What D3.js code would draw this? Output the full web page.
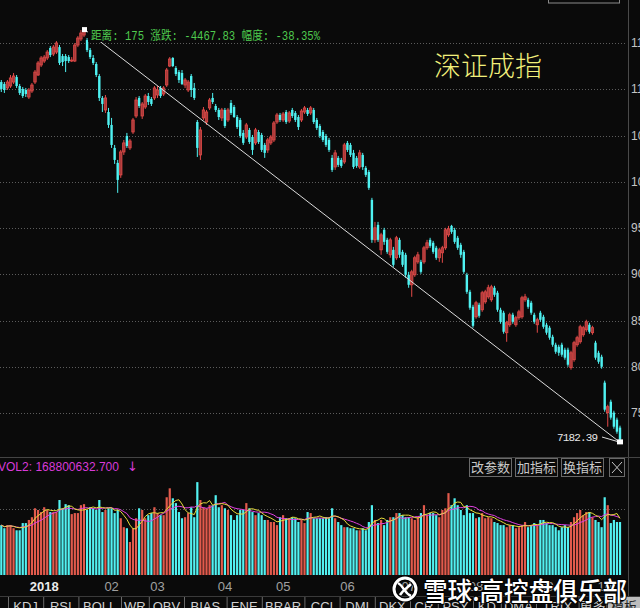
<!DOCTYPE html>
<html><head><meta charset="utf-8">
<script src="https://cdn.jsdelivr.net/npm/d3@7/dist/d3.min.js"></script>
<style>html,body{margin:0;padding:0;background:#0a0a0a;overflow:hidden}</style>
</head><body><svg id="c" width="640" height="608"></svg>
<script>
// ---------- data ----------
const opens = [11078,11057,11014,11035,11078,11132,11035,11003,10992,10916,10981,11078,11154,11262,11305,11338,11446,11381,11402,11456,
11359,11359,11348,11305,11305,11478,11543,11586,11532,11424,11338,11273,11143,10906,10776,10754,10614,10366,10204,10074,
10322,10495,10366,10538,10711,10906,10711,10808,10927,10895,10906,10938,11014,10949,11046,11251,11338,11230,11186,11176,
11046,10992,11143,11014,10646,10290,10690,10646,10798,10906,10819,10776,10690,10776,10668,10852,10808,10700,10668,10528,
10484,10560,10484,10420,10538,10506,10398,10344,10420,10452,10646,10722,10668,10754,10657,10776,10744,10700,10668,10754,
10776,10744,10776,10668,10603,10538,10495,10452,10258,10160,10258,10236,10214,10420,10398,10312,10258,10160,10290,10150,
10106,9804,9372,9534,9264,9480,9372,9210,9264,9178,9372,9242,9210,8994,8886,8994,9134,9134,9134,9286,
9372,9340,9286,9178,9232,9286,9426,9523,9480,9394,9318,9242,8994,8810,8648,8540,8670,8616,8702,8756,
8724,8854,8800,8616,8584,8368,8454,8562,8454,8530,8540,8724,8724,8692,8562,8454,8584,8540,8454,8422,
8324,8238,8216,8238,8184,8184,7990,8076,8238,8270,8346,8400,8454,8368,8260,8151,8108,7828,7504,7622,
7504,7428,7342];
const highs = [11100,11078,11100,11154,11176,11154,11057,11024,11014,11014,11068,11208,11305,11359,11370,11424,11467,11478,11521,11478,
11381,11381,11370,11348,11500,11575,11640,11650.22,11554,11446,11370,11294,11165,10927,10938,10798,10690,10398,10236,10344,
10452,10528,10463,10690,10916,10927,10862,10949,10960,10916,11035,11035,11035,11035,11230,11348,11348,11251,11208,11208,
11122,11100,11165,11068,10668,10592,10808,10776,10906,10960,10841,10798,10798,10798,10798,10884,10830,10722,10690,10560,
10636,10582,10506,10582,10560,10528,10420,10474,10506,10657,10744,10744,10754,10776,10765,10798,10765,10722,10787,10819,
10798,10819,10798,10690,10625,10560,10517,10474,10290,10344,10279,10258,10420,10441,10420,10344,10279,10344,10312,10171,
10128,9826,9566,9566,9448,9502,9394,9394,9296,9415,9394,9264,9232,9026,9048,9200,9242,9156,9307,9372,
9394,9361,9307,9286,9307,9502,9523,9534,9502,9415,9340,9264,9016,8832,8670,8713,8692,8821,8832,8886,
8886,8875,8821,8638,8605,8497,8584,8584,8551,8616,8767,8788,8746,8713,8584,8530,8605,8562,8476,8443,
8346,8260,8238,8260,8206,8206,8173,8281,8335,8454,8443,8508,8476,8443,8281,8173,8130,7850,7590,7644,
7525,7450,7363];
const lows = [10970,10960,10992,11014,11057,11014,10938,10906,10916,10895,10960,11057,11143,11240,11284,11316,11348,11359,11381,11262,
11251,11186,11284,11294,11294,11456,11521,11564,11402,11327,11262,11132,10873,10754,10744,10582,10366,10193,9880,10042,
10290,10366,10344,10517,10690,10798,10679,10787,10830,10819,10884,10906,10906,10927,11024,11240,11240,11143,11068,11046,
11014,10970,10916,10884,10268,10236,10668,10614,10776,10841,10754,10668,10657,10582,10646,10722,10690,10571,10474,10398,
10463,10409,10290,10398,10409,10322,10258,10312,10398,10430,10625,10646,10646,10625,10636,10690,10646,10560,10646,10733,
10711,10722,10625,10560,10474,10430,10376,10322,10106,10128,10160,10150,10193,10322,10268,10139,10150,10139,10128,10052,
9912,9340,9340,9350,9210,9318,9221,9178,9080,9156,9178,9080,8962,8854,8756,8972,9113,9005,9113,9264,
9286,9221,9156,9134,9124,9264,9404,9437,9329,9264,9178,9005,8788,8616,8422,8519,8530,8594,8681,8735,
8702,8756,8594,8465,8357,8270,8432,8465,8432,8508,8519,8702,8627,8562,8465,8368,8486,8411,8346,8292,
8216,8140,8119,8108,8076,8000,7968,8054,8216,8249,8324,8378,8357,8346,8076,8032,7979,7514,7352,7428,
7330,7276,7182.39];
const closes = [11003,10992,11078,11122,11143,11035,10960,10927,10949,10992,11046,11186,11284,11338,11348,11402,11370,11456,11500,11284,
11294,11305,11305,11316,11478,11554,11608,11629,11424,11348,11284,11154,10906,10841,10906,10614,10398,10236,10020,10322,
10420,10387,10441,10668,10884,10819,10841,10927,10862,10841,11014,10992,10927,11014,11208,11327,11251,11165,11100,11057,
11100,11078,10992,10906,10366,10560,10776,10754,10884,10862,10776,10700,10776,10603,10776,10744,10700,10592,10495,10420,
10614,10430,10344,10560,10430,10344,10312,10452,10484,10636,10722,10668,10733,10646,10744,10711,10668,10592,10765,10798,
10733,10798,10646,10582,10495,10452,10398,10344,10128,10312,10182,10171,10398,10344,10290,10160,10171,10312,10160,10074,
9934,9372,9502,9372,9426,9350,9242,9372,9102,9394,9210,9102,8994,8886,9026,9178,9210,9026,9286,9340,
9307,9242,9178,9264,9286,9480,9491,9458,9350,9286,9210,9026,8810,8638,8443,8692,8551,8800,8810,8854,
8864,8778,8616,8486,8378,8476,8562,8486,8530,8594,8746,8756,8648,8584,8486,8508,8508,8432,8368,8314,
8238,8162,8151,8130,8098,8022,8151,8260,8314,8432,8422,8486,8378,8422,8098,8054,8000,7536,7568,7450,
7352,7298,7212];
// volume, millions of shares
const volumes = [145,136,145,145,136,130,130,151,151,160,168,194,189,183,197,189,183,183,183,218,
194,206,203,177,180,180,203,206,189,197,194,189,218,183,189,194,194,180,189,165,
139,136,96,136,165,194,189,165,174,180,197,180,174,174,226,252,223,209,183,165,
168,180,197,168,270,218,197,194,203,203,232,197,203,194,189,174,160,174,189,189,
209,194,183,174,180,174,160,160,154,154,145,168,174,165,165,168,165,154,160,151,
183,180,165,165,165,165,168,165,194,165,154,145,139,139,136,136,130,130,136,130,
154,203,160,151,160,145,160,168,168,180,180,174,168,168,165,160,168,180,203,174,
180,180,174,168,189,194,238,203,223,203,189,174,203,180,180,165,168,180,165,168,
165,154,151,145,145,139,145,145,136,139,145,154,139,145,151,145,160,160,151,145,
145,139,130,139,145,139,154,168,180,189,174,183,183,168,160,154,139,226,203,151,
160,154,154];
const priceTicks = [11500,11000,10500,10000,9500,9000,8500,8000,7500];
const volGrid = [192];
const monthTicks = [["2018",15],["02",37],["03",52],["04",74],["05",93],["06",114],["07",134],["08",156],["09",179],["10",198]];
const peakIndex = 27, lastIndex = 202;
const infoText = "距离: 175 涨跌: -4467.83 幅度: -38.35%";
const endLabel = "7182.39";
const volLabel = "VOL2: 168800632.700";
const buttons = ["改参数","加指标","换指标"];
const tabs = ["KDJ","RSI","BOLL","WR","OBV","BIAS","ENE","BRAR","CCI","DMI","DKX","CR","PSY","KD","DMA","TRIX","更多"];
const title = "深证成指";
const watermark = "雪球:高控盘俱乐部";

// ---------- drawing ----------
const N = closes.length;
const svg = d3.select("#c");
const BG = "#0a0a0a", RED = "#e34a48", CYAN = "#4ff2f2";
const x = d3.scaleLinear().domain([0, N-1]).range([1.3, 620]);
const y = d3.scaleLinear().domain([7500, 11500]).range([413, 43]);
const yv = d3.scaleLinear().domain([0, 300]).range([575, 471.8]);

svg.append("rect").attr("width",640).attr("height",608).attr("fill",BG);

// price grid
svg.append("g").selectAll("line").data(priceTicks).join("line")
  .attr("x1",0).attr("x2",627).attr("y1",d=>Math.round(y(d))+0.5).attr("y2",d=>Math.round(y(d))+0.5)
  .attr("stroke","#5c5c5c").attr("stroke-dasharray","1,2");
svg.append("g").selectAll("text").data(priceTicks).join("text")
  .attr("x",631).attr("y",d=>y(d)).attr("dominant-baseline","central")
  .attr("fill","#c4c4c4").attr("font-size",12).attr("font-family","Liberation Sans, Arial")
  .text(d=>d.toFixed(2));
// volume grid
svg.append("g").selectAll("line").data(volGrid).join("line")
  .attr("x1",0).attr("x2",627).attr("y1",d=>Math.round(yv(d))+0.5).attr("y2",d=>Math.round(yv(d))+0.5)
  .attr("stroke","#5c5c5c").attr("stroke-dasharray","1,2");

// frame lines
svg.append("line").attr("x1",628.5).attr("x2",628.5).attr("y1",0).attr("y2",608).attr("stroke","#4a4a4a");
svg.append("line").attr("x1",0).attr("x2",640).attr("y1",457.5).attr("y2",457.5).attr("stroke","#444");
svg.append("rect").attr("x",548.5).attr("y",-10).attr("width",71).attr("height",13).attr("fill","none").attr("stroke","#8a8a8a");

const idx = d3.range(N);
const up = i => closes[i] >= opens[i];

// candles
const cg = svg.append("g");
cg.selectAll("rect.w").data(idx).join("rect").attr("class","w")
  .attr("x",i=>x(i)-0.5).attr("width",1)
  .attr("y",i=>y(highs[i])).attr("height",i=>Math.max(1,y(lows[i])-y(highs[i])))
  .attr("fill",i=>up(i)?RED:CYAN);
cg.selectAll("rect.b").data(idx).join("rect").attr("class","b")
  .attr("x",i=>x(i)-1.2).attr("width",2.4)
  .attr("y",i=>y(Math.max(opens[i],closes[i])))
  .attr("height",i=>Math.max(1,Math.abs(y(opens[i])-y(closes[i]))))
  .attr("fill",i=>up(i)?"#a83a3a":CYAN).attr("stroke",i=>up(i)?RED:"none").attr("stroke-width",0.8);

// trend line
svg.append("line").attr("x1",x(peakIndex)).attr("y1",y(highs[peakIndex]))
  .attr("x2",x(lastIndex)).attr("y2",y(lows[lastIndex])).attr("stroke","#dcdcdc").attr("stroke-width",1);
svg.append("rect").attr("x",88).attr("y",28).attr("width",234).attr("height",14).attr("fill",BG);
svg.append("text").attr("x",91).attr("y",40).attr("fill","#4fcb4f").attr("font-size",12)
  .attr("font-family","Liberation Mono, Noto Sans CJK SC").attr("textLength",229).attr("lengthAdjust","spacingAndGlyphs")
  .text(infoText);
svg.append("rect").attr("x",x(peakIndex)-2).attr("y",y(highs[peakIndex])-2).attr("width",5).attr("height",5).attr("fill","#fff");
svg.append("rect").attr("x",x(lastIndex)-3).attr("y",y(lows[lastIndex])-3).attr("width",6).attr("height",5).attr("fill","#fff");
svg.append("line").attr("x1",602).attr("y1",437).attr("x2",x(lastIndex)-3).attr("y2",y(lows[lastIndex])-1).attr("stroke","#ddd");
svg.append("text").attr("x",557).attr("y",441).attr("fill","#e8e8e8").attr("font-size",11)
  .attr("font-family","Liberation Mono, DejaVu Sans Mono").attr("textLength",41).text(endLabel);

// title
svg.append("text").attr("x",488).attr("y",76).attr("text-anchor","middle").attr("fill","#f2f07a")
  .attr("font-size",27).attr("font-weight",300).attr("font-family","Noto Sans CJK SC").text(title);

// volume bars
const vg = svg.append("g");
vg.selectAll("rect").data(idx).join("rect")
  .attr("x",i=>x(i)-1.1).attr("width",2.2)
  .attr("y",i=>yv(volumes[i])).attr("height",i=>yv(0)-yv(volumes[i]))
  .attr("fill",i=>up(i)?"#e25a4c":"#52f2f2");
// volume moving averages
function ma(n){ return idx.map(i=>{ const s=volumes.slice(Math.max(0,i-n+1),i+1); return d3.mean(s); }); }
const ma5 = ma(5), ma10 = ma(10);
const ln = arr => d3.line().x((d,i)=>x(i)).y(d=>yv(d))(arr);
svg.append("path").attr("d",ln(ma10)).attr("fill","none").attr("stroke","#e040e0").attr("stroke-width",1);
svg.append("path").attr("d",ln(ma5)).attr("fill","none").attr("stroke","#e8dc3a").attr("stroke-width",1);

svg.append("text").attr("x",-2).attr("y",471).attr("fill","#d83ad8").attr("font-size",13)
  .attr("font-family","Liberation Sans, Arial").attr("textLength",121).attr("lengthAdjust","spacingAndGlyphs").text(volLabel);
svg.append("text").attr("x",127).attr("y",471).attr("fill","#d83ad8").attr("font-size",13)
  .attr("font-family","DejaVu Sans").text("↓");

// buttons
const bx = [469,515,561];
buttons.forEach((b,k)=>{
  svg.append("rect").attr("x",bx[k]+0.5).attr("y",458.5).attr("width",42).attr("height",18).attr("fill","none").attr("stroke","#6a6a6a");
  svg.append("text").attr("x",bx[k]+21.5).attr("y",472).attr("text-anchor","middle").attr("fill","#c8c8c8")
    .attr("font-size",13).attr("font-family","Noto Sans CJK SC").text(b);
});
svg.append("rect").attr("x",609.5).attr("y",458.5).attr("width",15).attr("height",18).attr("fill","none").attr("stroke","#6a6a6a");
svg.append("path").attr("d","M612,462L622,473M622,462L612,473").attr("stroke","#c8c8c8");

// month labels
svg.append("g").selectAll("text").data(monthTicks).join("text")
  .attr("x",d=>x(d[1])-3).attr("y",591).attr("text-anchor","middle")
  .attr("fill",d=>d[0]==="2018"?"#ececec":"#a0a0a0").attr("font-weight",d=>d[0]==="2018"?"bold":"normal")
  .attr("font-size",13).attr("font-family","Liberation Sans, Arial").text(d=>d[0]);

// tabs
const tg = svg.append("g").attr("font-family","Liberation Sans, Noto Sans CJK SC").attr("font-size",13);
let tx = 8;
tg.append("line").attr("x1",0).attr("x2",640).attr("y1",596.5).attr("y2",596.5).attr("stroke","#3a3a3a");
tg.append("line").attr("x1",tx+0.5).attr("x2",tx+0.5).attr("y1",597).attr("y2",608).attr("stroke","#6a6a6a");
tabs.forEach(t=>{
  const w = Math.max(26, t.length*7.4 + 13);
  tg.append("text").attr("x",tx+w/2).attr("y",611).attr("text-anchor","middle").attr("fill","#d0d0d0").text(t);
  tx += w;
  tg.append("line").attr("x1",tx+0.5).attr("x2",tx+0.5).attr("y1",597).attr("y2",608).attr("stroke","#6a6a6a");
});
tg.append("rect").attr("x",608).attr("y",597).attr("width",32).attr("height",11).attr("fill","#bdbdbd");
tg.append("text").attr("x",624).attr("y",611).attr("text-anchor","middle").attr("fill","#222").text("模板");

// watermark
const wm = svg.append("g");
wm.append("circle").attr("cx",405).attr("cy",589).attr("r",11).attr("fill","none").attr("stroke","#000").attr("stroke-width",5);
wm.append("circle").attr("cx",405).attr("cy",589).attr("r",11).attr("fill","none").attr("stroke","#fff").attr("stroke-width",3);
wm.append("path").attr("d","M398,583 C404,586 404,593 411,596 M400,595 C403,590 407,588 411,584").attr("fill","none").attr("stroke","#fff").attr("stroke-width",2.5);
wm.append("text").attr("x",423).attr("y",601).attr("fill","#fff").attr("stroke","#000").attr("stroke-width",2)
  .attr("paint-order","stroke").attr("font-size",26).attr("font-weight",500).attr("font-family","Noto Sans CJK SC")
  .attr("textLength",204).attr("lengthAdjust","spacingAndGlyphs").text(watermark);
</script></body></html>
